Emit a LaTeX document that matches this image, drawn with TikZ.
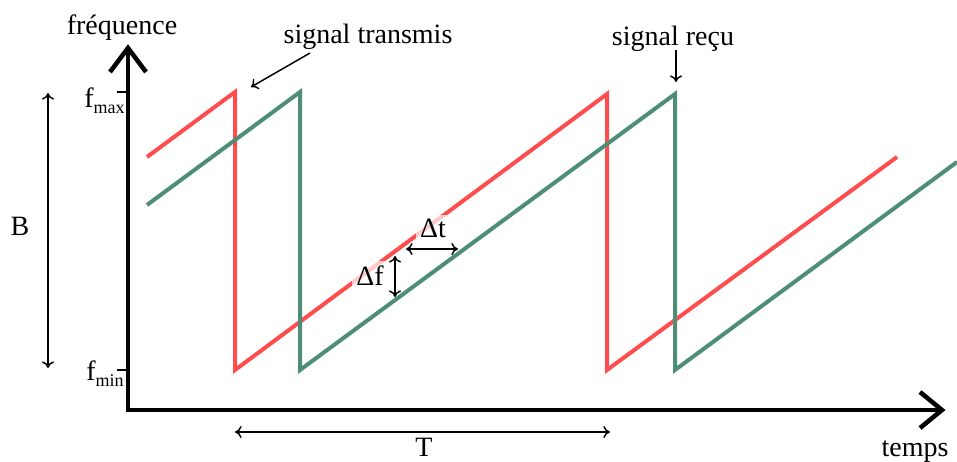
\documentclass[tikz,border=0pt]{standalone}
\usepackage{fontspec}
\setmainfont{Liberation Serif}
\usetikzlibrary{arrows.meta}
\definecolor{sigred}{RGB}{255,76,76}
\definecolor{siggreen}{RGB}{77,141,122}
\begin{document}
\begin{tikzpicture}[x=0.75pt,y=-0.75pt,
  lbl/.style={font=\fontsize{21}{25}\selectfont, inner sep=0pt, anchor=base},
  boxlbl/.style={lbl, fill=white, fill opacity=0.7, text opacity=1, inner sep=3pt},
  thinline/.style={line width=1.1pt},
  twohead/.style={thinline, {To[length=5pt,width=9pt]}-{To[length=5pt,width=9pt]}},
  onehead/.style={thinline, -{To[length=5pt,width=9pt]}},
  axis/.style={line width=3.4pt, miter limit=10},
  sig/.style={line width=3pt, line join=miter, miter limit=10},
  sub/.style={}
]
\useasboundingbox (0,0) rectangle (957,461);

% signals
\draw[sig, sigred] (147,157) -- (235,92) -- (235,370) -- (607,94) -- (607,370) -- (897,157);
\draw[sig, siggreen] (147,205) -- (300,92) -- (300,370) -- (675,94) -- (675,370) -- (957,162);

% axes
\coordinate (O) at (128,410);
\coordinate (Ytip) at (128,48);
\coordinate (Xtip) at (942,410);
\draw[axis, line join=miter] (Ytip) -- (O) -- (Xtip);
\draw[axis, line join=miter] (110,72) -- (Ytip) -- (146,72);
\draw[axis, line join=miter] (920,392) -- (Xtip) -- (920,428);

% ticks
\coordinate (tmax) at (128,92);
\coordinate (tmin) at (128,370);
\draw[line width=0.8pt] (117,92) -- (tmax);
\draw[line width=0.8pt] (117,370) -- (tmin);

% axis labels
\node[lbl] (freq) at (122,34) {fréquence};
\node[lbl] (temps) at (915,456) {temps};
\node[lbl, anchor=base east] (fmax) at (125,107) {f\raisebox{-5pt}{\fontsize{13.5}{14}\selectfont max}};
\node[lbl, anchor=base east] (fmin) at (124,380) {f\raisebox{-5pt}{\fontsize{13.5}{14}\selectfont min}};

% B
\coordinate (Btop) at (48,93);
\coordinate (Bbot) at (48,368);
\draw[twohead] (Btop) -- (Bbot);
\node[lbl] (B) at (20,235) {B};

% T
\coordinate (Tl) at (235,432);
\coordinate (Tr) at (610,432);
\draw[twohead] (Tl) -- (Tr);
\node[lbl] (T) at (424,456) {T};

% delta labels
\node[boxlbl] (dt) at (433,237) {Δt};
\node[boxlbl] (df) at (370,285) {Δf};
\coordinate (dtL) at (406,249);
\coordinate (dtR) at (458,249);
\draw[twohead] (dtL) -- (dtR);
\coordinate (dfT) at (395,256);
\coordinate (dfB) at (395,297);
\draw[twohead] (dfT) -- (dfB);

% signal labels
\node[lbl] (st) at (368,43) {signal transmis};
\node[lbl] (sr) at (673,45) {signal reçu};
\coordinate (stS) at (310,53);
\coordinate (stE) at (251,87);
\draw[onehead] (stS) -- (stE);
\coordinate (srS) at (676,50);
\coordinate (srE) at (676,82);
\draw[onehead] (srS) -- (srE);
\end{tikzpicture}
\end{document}
